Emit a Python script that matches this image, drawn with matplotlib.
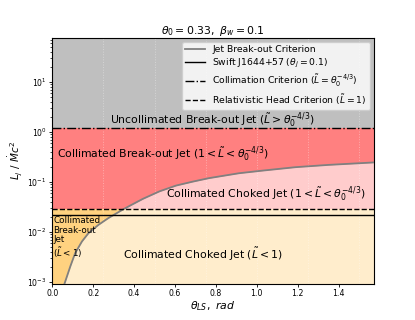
import numpy as np
import matplotlib
matplotlib.use("Agg")
import matplotlib.pyplot as plt

# Jet break-out criterion curve
theta_curve = [0.060, 0.088, 0.112, 0.145, 0.177, 0.226, 0.274, 0.307, 0.347, 0.378,
               0.443, 0.524, 0.605, 0.686, 0.767, 0.913, 1.027, 1.189, 1.351, 1.571]
L_curve = [0.00092, 0.00202, 0.00375, 0.0064, 0.0094, 0.0138, 0.0188, 0.0226, 0.0282, 0.0331,
           0.0457, 0.0646, 0.0843, 0.101, 0.119, 0.149, 0.168, 0.197, 0.219, 0.245]

L_swift = 0.022        # Swift J1644+57
L_collim = 1.19        # collimation criterion
L_relhead = 0.029      # relativistic head criterion

ylim = (9.2e-4, 76)
xlim = (0, np.pi / 2)
grid_x = [0.25, 0.5, 0.75, 1.0, 1.25, 1.5]

fig = plt.figure(figsize=(4.15, 3.2), dpi=100)
ax = fig.add_axes([0.126, 0.114, 0.774, 0.767])

tc = np.array(theta_curve)
lc = np.array(L_curve)

# regions
ax.axhspan(L_collim, ylim[1], color='#bfbfbf', lw=0, zorder=0)
ax.axhspan(L_relhead, L_collim, color='#ff8080', lw=0, zorder=0)
ax.axhspan(ylim[0], L_relhead, color='#ffd280', lw=0, zorder=0)
ax.fill_between(tc, L_relhead, lc, where=lc >= L_relhead, interpolate=True,
                color='#ffcccc', lw=0, zorder=1)
ax.fill_between(tc, ylim[0], np.minimum(lc, L_relhead), color='#ffedcc', lw=0, zorder=1)

for g in grid_x:
    ax.axvline(g, color='white', ls=':', lw=0.7, alpha=0.35, zorder=1.5)

ax.plot(tc, lc, color='gray', lw=1.3, zorder=3, label='Jet Break-out Criterion')
ax.axhline(L_swift, color='black', lw=1.0, zorder=3,
           label=r'Swift J1644+57 ($\theta_j = 0.1$)')
ax.axhline(L_collim, color='black', ls='-.', lw=1.0, zorder=3,
           label=r'Collimation Criterion ($\tilde{L} = \theta_0^{-4/3}$)')
ax.axhline(L_relhead, color='black', ls='--', lw=1.0, zorder=3,
           label=r'Relativistic Head Criterion ($\tilde{L} = 1$)')

ax.set_yscale('log')
ax.set_xlim(*xlim)
ax.set_ylim(*ylim)
ax.set_xticks([0.0, 0.2, 0.4, 0.6, 0.8, 1.0, 1.2, 1.4])
ax.tick_params(labelsize=5.6, length=2.5, width=0.6, pad=1.5)
ax.tick_params(which='minor', length=1.5, width=0.5)

fs = 7.8
ax.text(0.5, 1.74, r'Uncollimated Break-out Jet ($\tilde{L} > \theta_0^{-4/3}$)',
        ha='center', va='center', fontsize=fs, transform=ax.get_yaxis_transform(), zorder=4)
ax.text(0.023, 0.36, r'Collimated Break-out Jet ($1 < \tilde{L} < \theta_0^{-4/3}$)',
        ha='left', va='center', fontsize=fs, zorder=4)
ax.text(0.557, 0.055, r'Collimated Choked Jet ($1 < \tilde{L} < \theta_0^{-4/3}$)',
        ha='left', va='center', fontsize=fs, zorder=4)
ax.text(0.737, 0.0035, r'Collimated Choked Jet ($\tilde{L} < 1$)',
        ha='center', va='center', fontsize=fs, zorder=4)
ax.text(0.004, 0.0208, 'Collimated\nBreak-out\nJet\n' + r'($\tilde{L} < 1$)',
        ha='left', va='top', fontsize=6.3, linespacing=1.1, zorder=4)

ax.set_title(r'$\theta_0 = 0.33,\ \beta_w = 0.1$', fontsize=7.8, pad=3)
ax.set_xlabel(r'$\theta_{LS},\ rad$', fontsize=7.8, labelpad=1)
ax.set_ylabel(r'$L_j\ /\ \dot{M}c^2$', fontsize=7.5, labelpad=2)

leg = ax.legend(loc='upper right', fontsize=6.7, framealpha=0.8, borderaxespad=0.4,
                handlelength=2.15, handletextpad=0.75, labelspacing=0.3, borderpad=0.35)

fig.savefig('out.png', dpi=100)
